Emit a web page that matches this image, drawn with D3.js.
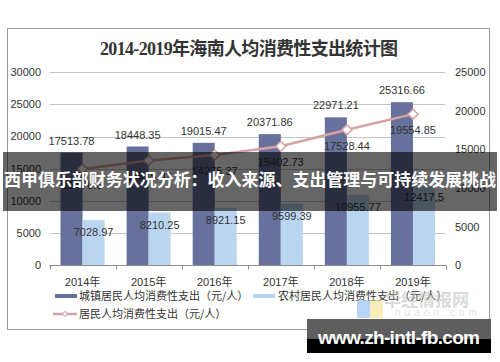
<!DOCTYPE html>
<html>
<head>
  <meta charset="utf-8">
  <title>2014-2019年海南人均消费性支出统计图</title>
  <style type="text/css">
    body { margin: 0; background: #fff; }
    svg { display: block; }
  </style>
</head>
<body>
  <div id="chart"></div>

  <script src="https://cdn.jsdelivr.net/npm/d3@7/dist/d3.min.js"></script>
  <script type="text/javascript">
    // data
    var years = ['2014年', '2015年', '2016年', '2017年', '2018年', '2019年'];
    var urban = [17513.78, 18448.35, 19015.47, 20371.86, 22971.21, 25316.66];
    var rural = [7028.97, 8210.25, 8921.15, 9599.39, 10955.77, 12417.5];
    var overall = [12470.6, 13575.02, 14275.37, 15402.73, 17528.44, 19554.85];
    var leftTicks = [0, 5000, 10000, 15000, 20000, 25000, 30000];
    var rightTicks = [0, 5000, 10000, 15000, 20000, 25000];

    var seriesNames = ['城镇居民人均消费性支出（元/人）', '农村居民人均消费性支出（元/人）', '居民人均消费性支出（元/人）'];
    var urbanColor = '#68719b', ruralColor = '#bad5ef', lineColor = '#d9a2a2';
    var numFont = '"Liberation Sans", Arial, "Noto Sans CJK SC", sans-serif';

    var svg = d3.select('#chart')
      .append('svg')
      .attr('width', 500)
      .attr('height', 362);

    // outer frame + title
    svg.append('rect')
      .attr('x', 7.5).attr('y', 28.5)
      .attr('width', 482).attr('height', 301)
      .attr('fill', '#fff').attr('stroke', '#9a9a9a');

    svg.append('text')
      .attr('x', 249).attr('y', 55)
      .attr('text-anchor', 'middle')
      .attr('textLength', 298)
      .attr('lengthAdjust', 'spacing')
      .style('font-family', '"Liberation Serif", "Noto Sans CJK SC", serif')
      .style('font-weight', 'bold')
      .style('font-size', '18px')
      .attr('fill', '#333')
      .text('2014-2019年海南人均消费性支出统计图');

    // scales
    var x0 = d3.scaleBand().domain(years).range([49.5, 446]).padding(0);
    var bw = x0.bandwidth();
    var x1 = d3.scaleBand().domain(['urban', 'rural']).range([bw / 6, bw * 5 / 6]);
    var yL = d3.scaleLinear().domain([0, 30000]).range([265.5, 72]);
    var yR = d3.scaleLinear().domain([0, 25000]).range([265.5, 72]);

    // gridlines
    svg.append('g').selectAll('line')
      .data(leftTicks.filter(function(d){ return d > 0; }))
      .enter().append('line')
      .attr('x1', 49.5).attr('x2', 445)
      .attr('y1', function(d){ return Math.round(yL(d)) + 0.5; })
      .attr('y2', function(d){ return Math.round(yL(d)) + 0.5; })
      .attr('stroke', '#c4c4c4');

    // left + right tick labels
    svg.append('g').selectAll('text')
      .data(leftTicks)
      .enter().append('text')
      .attr('x', 41).attr('y', function(d){ return yL(d); })
      .attr('dy', '0.35em')
      .attr('text-anchor', 'end')
      .style('font-family', numFont).style('font-size', '11px')
      .attr('fill', '#333')
      .text(function(d){ return d; });

    svg.append('g').selectAll('text')
      .data(rightTicks)
      .enter().append('text')
      .attr('x', 455).attr('y', function(d){ return yR(d); })
      .attr('dy', '0.35em')
      .attr('text-anchor', 'start')
      .style('font-family', numFont).style('font-size', '11px')
      .attr('fill', '#333')
      .text(function(d){ return d; });

    // bars
    var groups = svg.append('g').selectAll('g')
      .data(years)
      .enter().append('g')
      .attr('transform', function(d){ return 'translate(' + x0(d) + ',0)'; });

    groups.append('rect')
      .attr('x', x1('urban')).attr('width', x1.bandwidth())
      .attr('y', function(d, i){ return yL(urban[i]); })
      .attr('height', function(d, i){ return yL(0) - yL(urban[i]); })
      .attr('fill', urbanColor);

    groups.append('rect')
      .attr('x', x1('rural')).attr('width', x1.bandwidth())
      .attr('y', function(d, i){ return yL(rural[i]); })
      .attr('height', function(d, i){ return yL(0) - yL(rural[i]); })
      .attr('fill', ruralColor);

    // x axis
    var xAxis = svg.append('g');
    xAxis.append('line')
      .attr('x1', 49.5).attr('x2', 446)
      .attr('y1', 265.5).attr('y2', 265.5)
      .attr('stroke', '#8c8c8c');
    xAxis.selectAll('line.tick')
      .data(years.concat(['end']))
      .enter().append('line')
      .attr('class', 'tick')
      .attr('x1', function(d){ return Math.round(d === 'end' ? x0.range()[1] : x0(d)) + 0.5; })
      .attr('x2', function(d){ return Math.round(d === 'end' ? x0.range()[1] : x0(d)) + 0.5; })
      .attr('y1', 265.5).attr('y2', 269.5)
      .attr('stroke', '#8c8c8c');
    xAxis.selectAll('text')
      .data(years)
      .enter().append('text')
      .attr('x', function(d){ return x0(d) + bw / 2; })
      .attr('y', 286)
      .attr('text-anchor', 'middle')
      .style('font-family', numFont).style('font-size', '11px')
      .attr('fill', '#333')
      .text(function(d){ return d; });

    // line on right axis
    var line = d3.line()
      .x(function(d, i){ return x0(years[i]) + bw / 2; })
      .y(function(d){ return yR(d); });

    svg.append('path')
      .datum(overall)
      .attr('d', line)
      .attr('fill', 'none')
      .attr('stroke', lineColor)
      .attr('stroke-width', 2.5);

    var diamond = d3.symbol().type(d3.symbolSquare).size(50);
    svg.append('g').selectAll('path')
      .data(overall)
      .enter().append('path')
      .attr('d', diamond)
      .attr('transform', function(d, i){
        return 'translate(' + (x0(years[i]) + bw / 2) + ',' + yR(d) + ') rotate(45)';
      })
      .attr('fill', '#fff')
      .attr('stroke', lineColor)
      .attr('stroke-width', 1.5);

    // data labels
    function fmt(v){ return String(v); }
    var labels = svg.append('g')
      .style('font-family', numFont).style('font-size', '11px')
      .attr('fill', '#333')
      .attr('text-anchor', 'middle');

    labels.selectAll('text.u')
      .data(urban).enter().append('text')
      .attr('x', function(d, i){ return x0(years[i]) + x1('urban') + x1.bandwidth() / 2; })
      .attr('y', function(d){ return yL(d) - 8; })
      .text(fmt);

    labels.selectAll('text.r')
      .data(rural).enter().append('text')
      .attr('x', function(d, i){ return x0(years[i]) + x1('rural') + x1.bandwidth() / 2; })
      .attr('y', function(d){ return yL(d) + 16; })
      .text(fmt);

    labels.selectAll('text.o')
      .data(overall).enter().append('text')
      .attr('x', function(d, i){ return x0(years[i]) + bw / 2; })
      .attr('y', function(d){ return yR(d) + 20; })
      .text(fmt);

    // legend
    var legFont = '"Noto Sans CJK SC", sans-serif';
    var legend = svg.append('g')
      .style('font-family', legFont).style('font-size', '11px')
      .attr('fill', '#333');

    legend.append('rect').attr('x', 55).attr('y', 294).attr('width', 22).attr('height', 4).attr('fill', urbanColor);
    legend.append('text').attr('x', 79).attr('y', 300).text(seriesNames[0]);
    legend.append('rect').attr('x', 253).attr('y', 294).attr('width', 22).attr('height', 4).attr('fill', ruralColor);
    legend.append('text').attr('x', 278).attr('y', 300).text(seriesNames[1]);
    legend.append('line').attr('x1', 53).attr('x2', 77).attr('y1', 314).attr('y2', 314)
      .attr('stroke', lineColor).attr('stroke-width', 2.5);
    legend.append('path').attr('d', d3.symbol().type(d3.symbolSquare).size(14))
      .attr('transform', 'translate(65,314) rotate(45)')
      .attr('fill', '#fff').attr('stroke', lineColor);
    legend.append('text').attr('x', 79).attr('y', 318).text(seriesNames[2]);

    // faint source logo
    var logo = svg.append('g').attr('opacity', 0.55);
    logo.append('rect').attr('x', 357).attr('y', 300).attr('width', 13).attr('height', 18).attr('fill', '#7fb2f0');
    logo.append('rect').attr('x', 370).attr('y', 300).attr('width', 13).attr('height', 18).attr('fill', '#f7df87');
    logo.append('text').attr('x', 384).attr('y', 306)
      .style('font-family', legFont).style('font-size', '17px').style('font-weight', 'bold')
      .attr('fill', '#bdbdbd').text('华经情报网');
    logo.append('text').attr('x', 395).attr('y', 316)
      .attr('textLength', 82)
      .style('font-family', numFont).style('font-size', '10px')
      .attr('fill', '#c8c8c8').text('huaon.com');

    // overlay banner
    svg.append('rect')
      .attr('x', 3).attr('y', 152)
      .attr('width', 494).attr('height', 59)
      .attr('fill', 'rgba(0,0,0,0.6)');
    svg.append('text')
      .attr('x', 250).attr('y', 186)
      .attr('text-anchor', 'middle')
      .attr('textLength', 492)
      .attr('lengthAdjust', 'spacingAndGlyphs')
      .style('font-family', legFont)
      .style('font-weight', 'bold')
      .style('font-size', '17px')
      .attr('fill', '#fff')
      .text('西甲俱乐部财务状况分析：收入来源、支出管理与可持续发展挑战');

    // site stamp
    svg.append('rect').attr('x', 307).attr('y', 319).attr('width', 184).attr('height', 20).attr('fill', '#5e5e5e');
    svg.append('rect').attr('x', 307).attr('y', 339).attr('width', 184).attr('height', 14).attr('fill', '#000');
    svg.append('text')
      .attr('x', 399).attr('y', 344)
      .attr('text-anchor', 'middle')
      .attr('textLength', 162)
      .style('font-family', numFont)
      .style('font-weight', 'bold')
      .style('font-size', '19px')
      .attr('fill', '#fff')
      .text('www.zh-intl-fb.com');
  </script>
</body>
</html>
